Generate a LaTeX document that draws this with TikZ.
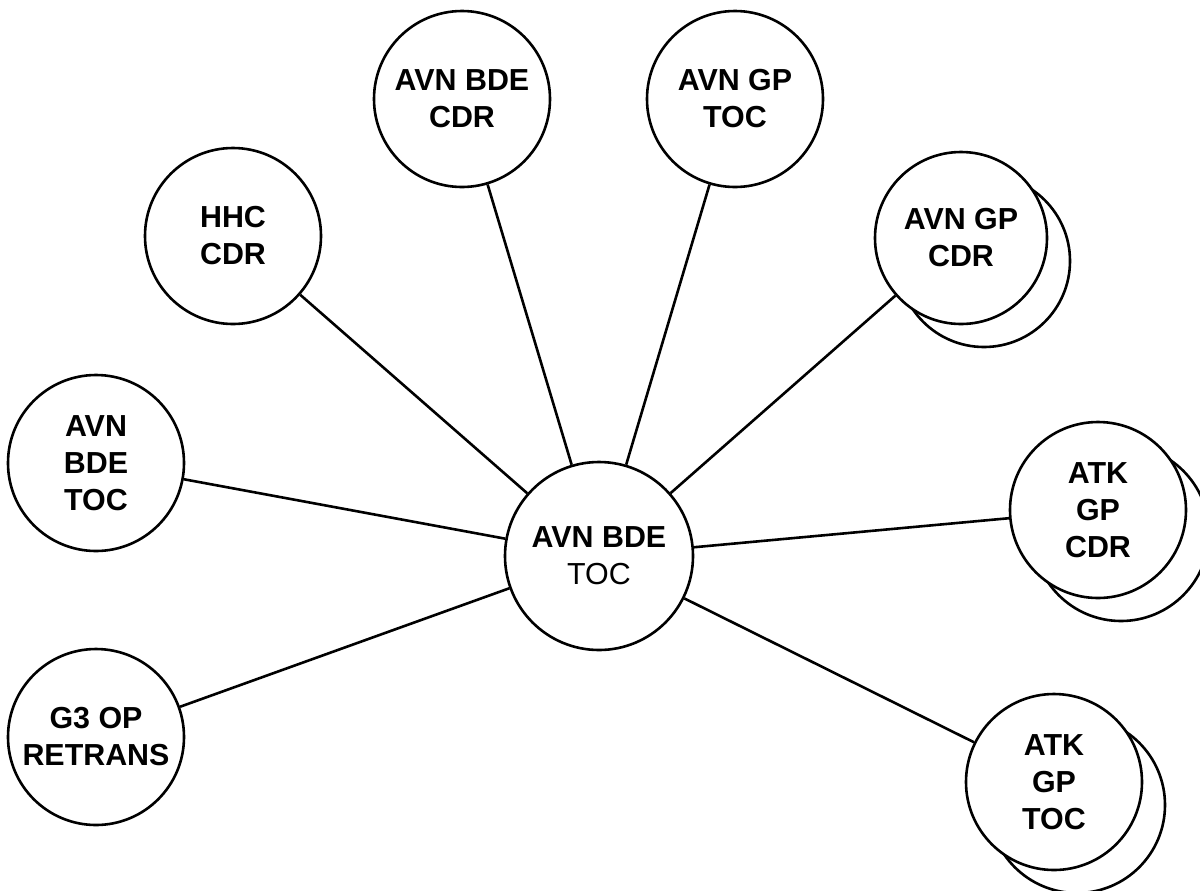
\documentclass[tikz,border=0pt]{standalone}
\usepackage{fontspec}
\setmainfont{Liberation Sans}
\usetikzlibrary{shadows}

\tikzset{
  station/.style={circle, draw, line width=1.3pt, fill=white, minimum size=88pt,
    inner sep=0pt, align=center, font=\fontsize{15.2}{18.5}\selectfont\bfseries},
  twin/.style={station, copy shadow={shadow xshift=11.5pt, shadow yshift=-11.5pt}},
  link/.style={line width=1.3pt},
}

\begin{document}
\begin{tikzpicture}[x=0.5pt, y=-0.5pt]
        \useasboundingbox (0,0) rectangle (1200,890);

        % ---- hub ----------------------------------------
        \node[station, minimum size=94pt, font=\fontsize{15.2}{18.5}\selectfont]
          (hub) at (599,556) {{\bfseries AVN BDE}\\TOC};

        % ---- outer stations -----------------------------
        \node[station] (hhc)    at (233,236) {HHC\\CDR};
        \node[station] (bdecdr) at (462,99)  {AVN BDE\\CDR};
        \node[station] (gptoc)  at (735,99)  {AVN GP\\TOC};
        \node[twin, minimum size=86pt] (gpcdr) at (961,238) {AVN GP\\CDR};
        \node[station] (bdetoc) at (96,463)  {AVN\\BDE\\TOC};
        \node[twin]    (atkcdr) at (1098,510) {ATK\\GP\\CDR};
        \node[station] (retrans) at (96,737) {G3 OP\\RETRANS};
        \node[twin]    (atktoc) at (1054,782) {ATK\\GP\\TOC};

        % ---- links to the hub ---------------------------
        \foreach \s in {hhc,bdecdr,gptoc,gpcdr,bdetoc,atkcdr,retrans,atktoc}
          \draw[link] (hub) -- (\s);
\end{tikzpicture}
\end{document}
